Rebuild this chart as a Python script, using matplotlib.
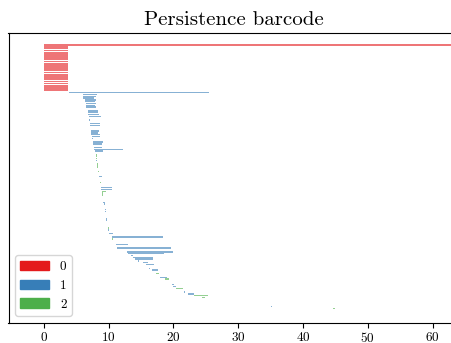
import matplotlib
matplotlib.use("Agg")
import matplotlib.pyplot as plt
import matplotlib.patches as mpatches

plt.rcParams["font.family"] = "cmr10"
plt.rcParams["axes.formatter.use_mathtext"] = True

# dimension 0: all born at 0, first one never dies
h0_death = [float("inf"),
            3.70, 3.71, 3.69, 3.70, 3.72, 3.70, 3.68, 3.71, 3.70, 3.69,
            3.70, 3.71, 3.70, 3.72, 3.69, 3.70, 3.71, 3.70, 3.68, 3.70,
            3.71, 3.70, 3.69, 3.70, 3.71]

h1_birth = [3.90, 6.00, 6.05, 6.10, 6.35, 6.40, 6.45, 6.50, 6.55, 6.65,
            6.75, 6.80, 6.85, 6.90, 6.95, 7.02, 7.08, 7.12, 7.16, 7.20,
            7.22, 7.25, 7.28, 7.35, 7.40, 7.48, 7.55, 7.60, 7.65, 7.70,
            7.72, 7.75, 7.90, 8.12, 8.18, 8.45, 8.50, 8.55, 8.62, 8.66,
            8.75, 8.80, 8.85, 8.88, 9.10, 9.15, 9.20, 9.22,
            9.45, 9.48, 9.51, 9.54, 9.57, 9.60, 9.63, 9.66,
            9.70, 9.78, 9.84, 9.95, 10.02, 10.10, 10.30, 10.50,
            10.75, 10.95, 11.15, 11.25, 11.35, 12.30, 12.80, 13.05, 13.40,
            13.80, 14.10, 14.60, 15.30, 15.70, 16.00, 16.30, 16.65, 17.00,
            17.60, 17.85, 19.10, 19.50, 19.80, 19.90, 21.00, 21.70, 22.30,
            24.50, 24.60, 24.70, 24.80, 35.10]
h1_death = [25.50, 8.20, 8.05, 7.75, 8.00, 7.95, 8.05, 7.90, 8.00, 6.70,
            8.30, 8.40, 8.55, 8.85, 7.00, 7.06, 7.12, 8.70, 8.65, 7.24,
            7.26, 8.45, 8.35, 8.70, 8.62, 7.52, 7.59, 9.10, 9.00, 7.74,
            9.00, 12.20, 9.10, 8.16, 8.22, 8.49, 8.54, 9.00, 8.66, 8.70,
            8.79, 8.84, 10.50, 10.45, 9.14, 9.19, 9.45, 9.40,
            9.49, 9.52, 9.55, 9.58, 9.61, 9.64, 9.67, 9.70,
            9.80, 9.82, 9.88, 9.99, 10.06, 10.65, 10.34, 18.45,
            10.79, 10.99, 12.95, 11.29, 19.60, 12.34, 20.00, 18.55, 13.80,
            16.80, 16.80, 14.64, 16.00, 17.00, 16.04, 16.34, 17.55, 17.04,
            17.64, 19.00, 19.14, 19.54, 20.10, 20.40, 21.04, 21.74, 23.20,
            24.52, 24.62, 24.72, 24.82, 35.25]

h2_birth = [8.00, 8.02, 8.04, 8.06, 8.22, 8.24, 8.26, 8.28, 8.38, 8.70,
            9.00, 9.02, 9.04, 9.06, 9.40, 9.90, 10.55,
            17.30, 18.75, 20.40, 23.20, 24.35, 44.60]
h2_death = [8.12, 8.14, 8.16, 8.18, 8.30, 8.32, 8.34, 8.36, 8.48, 8.80,
            9.55, 9.12, 9.14, 9.16, 9.50, 10.00, 10.65,
            17.80, 19.35, 21.45, 25.35, 24.90, 44.90]

colors = ["#e41a1c", "#377eb8", "#4daf4a"]
x_min, x_max = -5.46, 64.0

bars = [(0, 0.0, d) for d in h0_death]
bars += [(1, b, d) for b, d in zip(h1_birth, h1_death)]
bars += [(2, b, d) for b, d in zip(h2_birth, h2_death)]
bars = sorted(bars, key=lambda t: t[1])

fig = plt.figure(figsize=(4.51, 3.43), dpi=100)
ax = fig.add_axes([8.5 / 451, 20.5 / 343, 450 / 451, 289.2 / 343])

for ind, (dim, b, d) in enumerate(bars):
    if d == float("inf"):
        d = x_max
    ax.barh(ind, d - b, height=0.8, left=b, alpha=0.6,
            color=colors[dim], linewidth=0)

n = len(bars)
step = 263.5 / (n - 1)
ax.set_ylim(n - 1 + 14.0 / step, -11.7 / step)
ax.set_xlim(x_min, x_max)
ax.set_yticks([])
ax.set_xticks([0, 10, 20, 30, 40, 50, 60])
ax.tick_params(axis="x", labelsize=9.5, pad=2.5)
ax.set_title("Persistence barcode", fontsize=15, pad=6)

handles = [mpatches.Patch(color=c, label=str(i)) for i, c in enumerate(colors)]
ax.legend(handles=handles, loc="lower left", fontsize=9.5, handlelength=2.2)

fig.savefig("out.png", dpi=100)
